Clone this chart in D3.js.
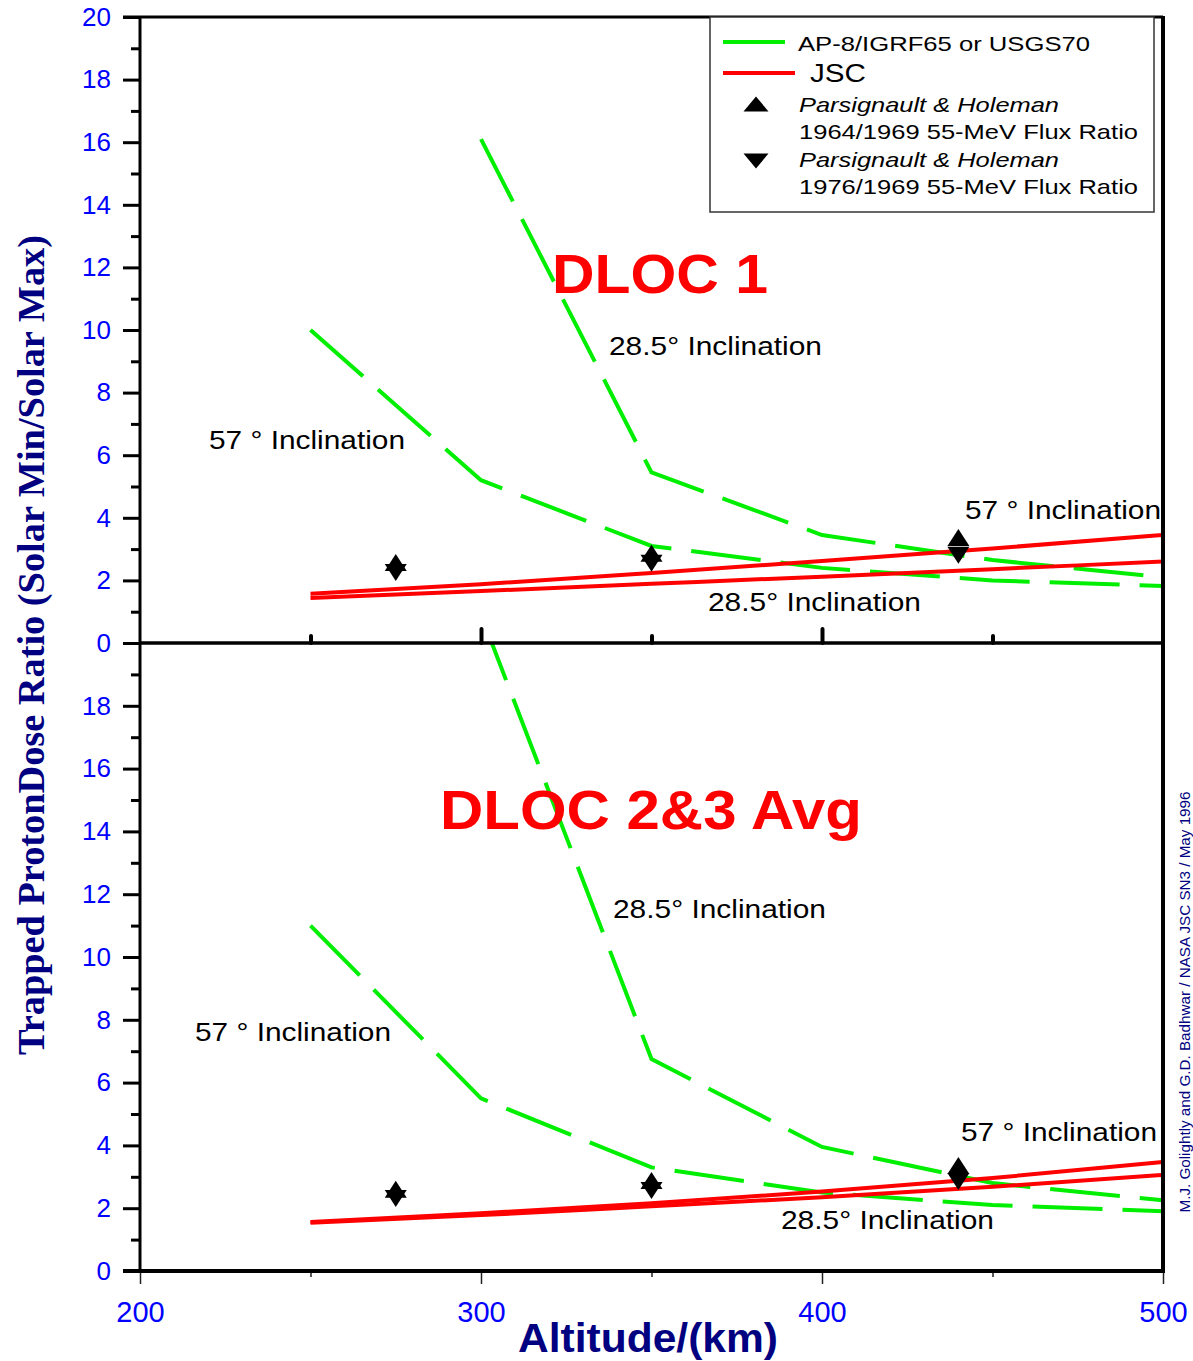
<!DOCTYPE html>
<html>
<head>
<meta charset="utf-8">
<script src="https://cdnjs.cloudflare.com/ajax/libs/d3/7.8.5/d3.min.js"></script>
<style>
  body { margin: 0; background: #fff; }
  svg { display: block; }
</style>
</head>
<body>
<svg id="chart" width="1193" height="1361"></svg>
<script>

// altitudes (km)
const altitudes = [ 250, 300, 350, 400, 450, 500 ]
const altitudes285 = [ 300, 350, 400, 450, 500 ]
const phAltitudes = [ 275, 350, 440 ]

// DLOC 1
const dloc1Ap8Inc285 = [ 16.1, 5.45, 3.45, 2.65, 2.1 ]
const dloc1Ap8Inc57  = [ 10.0, 5.2, 3.1, 2.4, 2.0, 1.82 ]
const dloc1JscInc57  = [ 1.57, 1.88, 2.24, 2.62, 3.02, 3.45 ]
const dloc1JscInc285 = [ 1.44, 1.66, 1.89, 2.12, 2.36, 2.6 ]
const dloc1Ph6469 = [ 2.57, 2.87, 3.37 ]
const dloc1Ph7669 = [ 2.25, 2.55, 2.8 ]

// DLOC 2&3 average
const dloc23Ap8Inc285 = [ 20.9, 6.75, 3.95, 2.8, 2.25 ]
const dloc23Ap8Inc57  = [ 11.0, 5.5, 3.3, 2.5, 2.1, 1.9 ]
const dloc23JscInc57  = [ 1.56, 1.84, 2.16, 2.53, 2.96, 3.47 ]
const dloc23JscInc285 = [ 1.54, 1.78, 2.06, 2.35, 2.68, 3.06 ]
const dloc23Ph6469 = [ 2.6, 2.88, 3.36 ]
const dloc23Ph7669 = [ 2.31, 2.56, 2.85 ]

// ticks
const xMajorTicks = [ 200, 300, 400, 500 ]
const xMinorTicks = [ 250, 350, 450 ]
const yTopMajor = [ 0, 2, 4, 6, 8, 10, 12, 14, 16, 18, 20 ]
const yBotMajor = [ 0, 2, 4, 6, 8, 10, 12, 14, 16, 18 ]
const yMinor = [ 1, 3, 5, 7, 9, 11, 13, 15, 17, 19 ]

const legendLabels = [ "AP-8/IGRF65 or USGS70", "JSC",
                       "Parsignault & Holeman", "1964/1969 55-MeV Flux Ratio",
                       "Parsignault & Holeman", "1976/1969 55-MeV Flux Ratio" ]

const GREEN = "#00ee00"
const RED = "#ff0000"
const TICKBLUE = "#0000ff"
const NAVY = "#000080"
const SANS = "'Liberation Sans', Arial, sans-serif"

const plotLeft = 140, plotRight = 1163, plotTop = 17, plotMid = 643, plotBottom = 1271

var svg = d3.select("#chart")

var x = d3.scaleLinear().domain([ 200, 500 ]).range([ plotLeft, plotRight ])
var yTop = d3.scaleLinear().domain([ 0, 20 ]).range([ plotMid, plotTop ])
var yBot = d3.scaleLinear().domain([ 0, 20 ]).range([ plotBottom, plotMid ])

function addText( g, str, px, py, size, width, opts )
{
  opts = opts || {}
  let t = g.append("text")
           .attr("x", px)
           .attr("y", py)
           .attr("font-family", opts.family || SANS)
           .attr("font-size", size)
           .attr("font-weight", opts.weight || "normal")
           .attr("font-style", opts.style || "normal")
           .attr("fill", opts.fill || "#000")
           .text( str )
  if ( width ) {
    t.attr("textLength", width).attr("lengthAdjust", "spacingAndGlyphs")
  }
  return t
}

function triangle( cx, cy, w, h, up )
{
  if ( up )
    return "M" + (cx - w/2) + "," + (cy + h/2) + "L" + cx + "," + (cy - h/2) + "L" + (cx + w/2) + "," + (cy + h/2) + "Z"
  return "M" + (cx - w/2) + "," + (cy - h/2) + "L" + cx + "," + (cy + h/2) + "L" + (cx + w/2) + "," + (cy - h/2) + "Z"
}

function drawPanel( y, ap8Inc285, ap8Inc57, jscInc57, jscInc285, ph6469, ph7669, clipId )
{
  let yr = y.range()
  svg.append("clipPath").attr("id", clipId)
     .append("rect")
     .attr("x", plotLeft).attr("y", yr[1])
     .attr("width", plotRight - plotLeft).attr("height", yr[0] - yr[1])

  let g = svg.append("g").attr("clip-path", "url(#" + clipId + ")")

  let green = d3.line().x( d => x(d[0]) ).y( d => y(d[1]) )
  let red = d3.line().x( d => x(d[0]) ).y( d => y(d[1]) ).curve( d3.curveMonotoneX )

  g.append("path")
   .attr("d", green( d3.zip( altitudes285, ap8Inc285 ) ))
   .attr("fill", "none").attr("stroke", GREEN).attr("stroke-width", 4)
   .attr("stroke-dasharray", "70,20")

  g.append("path")
   .attr("d", green( d3.zip( altitudes, ap8Inc57 ) ))
   .attr("fill", "none").attr("stroke", GREEN).attr("stroke-width", 4)
   .attr("stroke-dasharray", "70,20")

  g.append("path")
   .attr("d", red( d3.zip( altitudes, jscInc57 ) ))
   .attr("fill", "none").attr("stroke", RED).attr("stroke-width", 4)

  g.append("path")
   .attr("d", red( d3.zip( altitudes, jscInc285 ) ))
   .attr("fill", "none").attr("stroke", RED).attr("stroke-width", 4)

  g.selectAll(".up" + clipId)
   .data( d3.zip( phAltitudes, ph6469 ) )
   .enter().append("path")
   .attr("d", d => triangle( x(d[0]), y(d[1]), 22, 17, true ))
   .attr("fill", "#000")

  g.selectAll(".down" + clipId)
   .data( d3.zip( phAltitudes, ph7669 ) )
   .enter().append("path")
   .attr("d", d => triangle( x(d[0]), y(d[1]), 22, 17, false ))
   .attr("fill", "#000")
}

drawPanel( yTop, dloc1Ap8Inc285, dloc1Ap8Inc57, dloc1JscInc57, dloc1JscInc285, dloc1Ph6469, dloc1Ph7669, "clipTop" )
drawPanel( yBot, dloc23Ap8Inc285, dloc23Ap8Inc57, dloc23JscInc57, dloc23JscInc285, dloc23Ph6469, dloc23Ph7669, "clipBot" )

// y axes
function yAxis( y, major )
{
  let gMaj = svg.append("g")
                .attr("transform", "translate(" + plotLeft + ",0)")
                .call( d3.axisLeft( y ).tickValues( major ).tickSize( 17 ).tickPadding( 12 ) )
  gMaj.select(".domain").remove()
  gMaj.selectAll("line").attr("stroke", "#000").attr("stroke-width", 3)
  gMaj.selectAll("text")
      .attr("font-family", SANS)
      .attr("font-size", 26)
      .attr("fill", TICKBLUE)

  let gMin = svg.append("g")
                .attr("transform", "translate(" + plotLeft + ",0)")
                .call( d3.axisLeft( y ).tickValues( yMinor ).tickSize( 9 ).tickFormat("") )
  gMin.select(".domain").remove()
  gMin.selectAll("line").attr("stroke", "#000").attr("stroke-width", 3)
}

yAxis( yTop, yTopMajor )
yAxis( yBot, yBotMajor )

// x axis at the bottom
var gx = svg.append("g")
            .attr("transform", "translate(0," + plotBottom + ")")
            .call( d3.axisBottom( x ).tickValues( xMajorTicks ).tickSize( 13 ) )
gx.select(".domain").remove()
gx.selectAll("line").attr("stroke", "#222").attr("stroke-width", 1.5)
gx.selectAll("text")
  .attr("dy", null)
  .attr("y", 51)
  .attr("font-family", SANS)
  .attr("font-size", 29)
  .attr("fill", TICKBLUE)

var gxMin = svg.append("g")
               .attr("transform", "translate(0," + plotBottom + ")")
               .call( d3.axisBottom( x ).tickValues( xMinorTicks ).tickSize( 6 ).tickFormat("") )
gxMin.select(".domain").remove()
gxMin.selectAll("line").attr("stroke", "#222").attr("stroke-width", 1.5)

// upward ticks on the shared middle line
var gMidMaj = svg.append("g")
                 .attr("transform", "translate(0," + plotMid + ")")
                 .call( d3.axisTop( x ).tickValues([ 300, 400 ]).tickSize( 14 ).tickFormat("") )
gMidMaj.select(".domain").remove()
gMidMaj.selectAll("line").attr("stroke", "#000").attr("stroke-width", 4).attr("stroke-linecap", "round")

var gMidMin = svg.append("g")
                 .attr("transform", "translate(0," + plotMid + ")")
                 .call( d3.axisTop( x ).tickValues( xMinorTicks ).tickSize( 7 ).tickFormat("") )
gMidMin.select(".domain").remove()
gMidMin.selectAll("line").attr("stroke", "#000").attr("stroke-width", 4).attr("stroke-linecap", "round")

// frame
var frame = svg.append("g").attr("stroke", "#000").attr("fill", "none")
frame.append("line").attr("x1", plotLeft - 17).attr("x2", plotRight).attr("y1", plotTop).attr("y2", plotTop).attr("stroke-width", 3)
frame.append("line").attr("x1", plotLeft).attr("x2", plotRight).attr("y1", plotMid).attr("y2", plotMid).attr("stroke-width", 3.5)
frame.append("line").attr("x1", plotLeft - 17).attr("x2", plotRight + 2).attr("y1", plotBottom).attr("y2", plotBottom).attr("stroke-width", 4)
frame.append("line").attr("x1", plotLeft).attr("x2", plotLeft).attr("y1", plotTop).attr("y2", plotBottom).attr("stroke-width", 3)
frame.append("line").attr("x1", plotRight).attr("x2", plotRight).attr("y1", plotTop - 1).attr("y2", plotBottom + 2).attr("stroke-width", 4)

// annotations
var ann = svg.append("g")
addText( ann, "DLOC 1", 552, 293, 56, 216, { weight: "bold", fill: RED } )
addText( ann, "28.5° Inclination", 609, 355, 25, 213 )
addText( ann, "57 ° Inclination", 209, 449, 25, 196 )
addText( ann, "57 ° Inclination", 965, 519, 25, 196 )
addText( ann, "28.5° Inclination", 708, 611, 25, 213 )

addText( ann, "DLOC 2&3 Avg", 440, 829, 56, 422, { weight: "bold", fill: RED } )
addText( ann, "28.5° Inclination", 613, 918, 25, 213 )
addText( ann, "57 ° Inclination", 195, 1041, 25, 196 )
addText( ann, "57 ° Inclination", 961, 1141, 25, 196 )
addText( ann, "28.5° Inclination", 781, 1229, 25, 213 )

// legend
var leg = svg.append("g")
leg.append("rect")
   .attr("x", 710).attr("y", 17).attr("width", 444).attr("height", 195)
   .attr("fill", "#fff").attr("stroke", "#333").attr("stroke-width", 1.5)
leg.append("line").attr("x1", 723).attr("x2", 785).attr("y1", 42).attr("y2", 42)
   .attr("stroke", GREEN).attr("stroke-width", 4)
leg.append("line").attr("x1", 723).attr("x2", 795).attr("y1", 73).attr("y2", 73)
   .attr("stroke", RED).attr("stroke-width", 4)
leg.append("path").attr("d", triangle( 756, 104, 25, 15, true )).attr("fill", "#000")
leg.append("path").attr("d", triangle( 756, 161, 25, 15, false )).attr("fill", "#000")

addText( leg, legendLabels[0], 798, 51, 21, 292 )
addText( leg, legendLabels[1], 810, 82, 25, 56 )
addText( leg, legendLabels[2], 799, 112, 21, 260, { style: "italic" } )
addText( leg, legendLabels[3], 799, 139, 21, 339 )
addText( leg, legendLabels[4], 799, 167, 21, 260, { style: "italic" } )
addText( leg, legendLabels[5], 799, 194, 21, 339 )

// axis titles
addText( svg, "Altitude/(km)", 518, 1352, 40, 260, { weight: "bold", fill: NAVY } )

addText( svg, "Trapped ProtonDose Ratio (Solar Min/Solar Max)", 0, 0, 38, 820,
         { family: "'Liberation Serif', 'Times New Roman', serif", weight: "bold", fill: NAVY } )
  .attr("text-anchor", "middle")
  .attr("transform", "translate(44,645) rotate(-90)")

addText( svg, "M.J. Golightly and G.D. Badhwar / NASA JSC SN3 / May 1996", 0, 0, 14, 421, { fill: NAVY } )
  .attr("text-anchor", "middle")
  .attr("transform", "translate(1190,1002) rotate(-90)")

</script>
</body>
</html>
